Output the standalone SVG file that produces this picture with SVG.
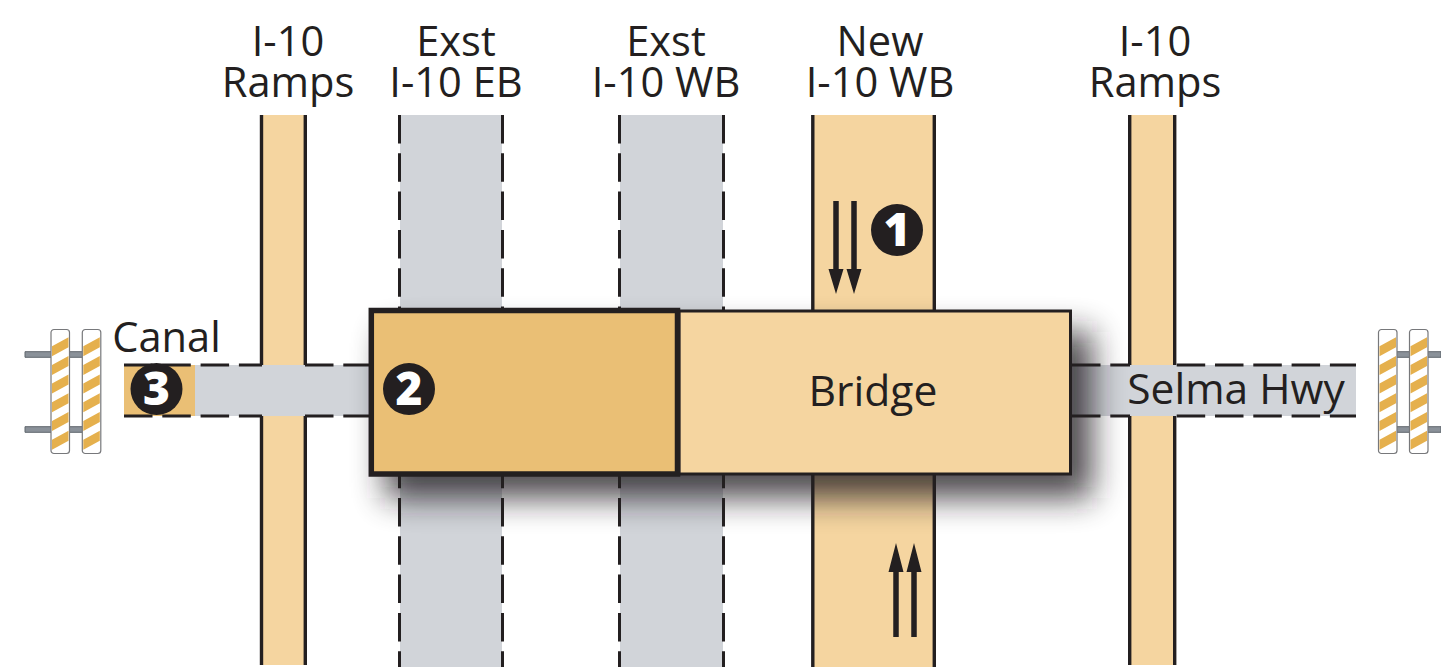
<svg xmlns="http://www.w3.org/2000/svg" width="1441" height="671" viewBox="0 0 1441 671">
<style>
.t{font-family:"Open Sans","Noto Sans",sans-serif;font-size:41.600px;fill:#231f20;text-anchor:middle}
.b{font-size:42.600px}
.n{font-family:"Open Sans","Noto Sans",sans-serif;font-size:46px;font-weight:800;fill:#fff;text-anchor:middle}
.o{fill:#f5d5a0}.g{fill:#d1d4d9}.c{fill:#eabf75}
.s{stroke:#231f20;stroke-width:3.400;fill:none}
.d{stroke:#231f20;stroke-width:3;fill:none;stroke-dasharray:28.500 9.800}
.a{stroke:#231f20;stroke-width:5.500;fill:none}
.rod{fill:#8a9199;stroke:#5f666d;stroke-width:1}
.post{fill:#fff;stroke:#77787b;stroke-width:1.200}
.stripe{fill:#e5b04d}
</style>
<defs>
<filter id="b" x="-20%" y="-50%" width="140%" height="200%"><feGaussianBlur stdDeviation="16"/></filter>
<g id="bar">
<rect class="post" x="0" y="0" width="18.500" height="124" rx="3"/>
<path class="stripe" d="M1 16.700L17.500 7.700V17.700L1 26.700zM1 35.400L17.500 26.400V36.400L1 45.400zM1 54.100L17.500 45.100V55.100L1 64.100zM1 72.800L17.500 63.800V73.800L1 82.800zM1 91.500L17.500 82.500V92.500L1 101.500zM1 110.200L17.500 101.200V111.200L1 120.200z"/>
</g>
</defs>
<g id="roads">
<rect class="o" x="262" y="115" width="43" height="550"/>
<rect class="g" x="400" y="115" width="102" height="552"/>
<rect class="g" x="620" y="115" width="103" height="552"/>
<rect class="o" x="813" y="115" width="121" height="552"/>
<rect class="o" x="1130" y="115" width="44" height="550"/>
<rect class="g" x="195" y="365" width="1161" height="51"/>
<rect class="c" x="124" y="365" width="71" height="51"/>
</g>
<g id="shadow"><rect x="385" y="332" width="707" height="166" fill="#231f20" opacity=".8" filter="url(#b)"/></g>
<g id="connectors">
<path class="s" d="M261.500 115V365M261.500 416V665M305.300 115V365M305.300 416V665M1129.700 115V365M1129.700 416V665M1174.700 115V365M1174.700 416V665M812.800 115V553M812.800 553V667M934.300 115V667"/>
<path class="d" d="M399.500 115V667M502.500 115V667M619.500 115V667M723.500 115V667"/>
<path class="d" d="M124 365H262M305 365H372M124 416H262M305 416H372M1072 365H1130M1176.700 365H1356M1072 416H1130M1176.700 416H1356"/>
<path class="a" d="M836 201V272M854 201V272M896 637V570M914 637V570"/>
<path fill="#231f20" d="M828.500 269H843.500L836 294zM846.500 269H861.500L854 294zM888.500 572H903.500L896 543zM906.500 572H921.500L914 543z"/>
</g>
<g id="rail-left">
<path class="rod" d="M25 351.700H99V357.300H25zM25 426.700H99V432.300H25z"/>
<use href="#bar" x="51" y="329.500"/><use href="#bar" x="82.300" y="329.500"/>
</g>
<g id="rail-right">
<path class="rod" d="M1395 351.700H1441V357.300H1395zM1395 426.700H1441V432.300H1395z"/>
<use href="#bar" x="1378.500" y="329.500"/><use href="#bar" x="1409.500" y="329.500"/>
</g>
<g id="bridge">
<rect x="679" y="311" width="391.500" height="163" class="o" stroke="#231f20" stroke-width="3"/>
<text class="t b" x="873" y="406">Bridge</text>
</g>
<g id="existing">
<rect x="371.300" y="310.500" width="306.200" height="163.500" class="c" stroke="#231f20" stroke-width="5.500"/>
</g>
<g id="m1"><circle cx="897" cy="230" r="26" fill="#231f20"/><text class="n" x="897" y="246">1</text></g>
<g id="m2"><circle cx="409" cy="389" r="26" fill="#231f20"/><text class="n" x="409" y="405">2</text></g>
<g id="m3"><circle cx="156.500" cy="389" r="26" fill="#231f20"/><text class="n" x="156.500" y="405">3</text></g>
<g id="labels">
<text class="t" x="288" y="56">I-10</text><text class="t" x="288" y="97">Ramps</text>
<text class="t" x="456" y="56">Exst</text><text class="t" x="456" y="97">I-10 EB</text>
<text class="t" x="666" y="56">Exst</text><text class="t" x="666" y="97">I-10 WB</text>
<text class="t" x="880" y="56">New</text><text class="t" x="880" y="97">I-10 WB</text>
<text class="t" x="1155" y="56">I-10</text><text class="t" x="1155" y="97">Ramps</text>
<text class="t" x="166.500" y="352">Canal</text>
<text class="t" x="1236" y="404" style="font-size:42.500px">Selma Hwy</text>
</g>
</svg>
